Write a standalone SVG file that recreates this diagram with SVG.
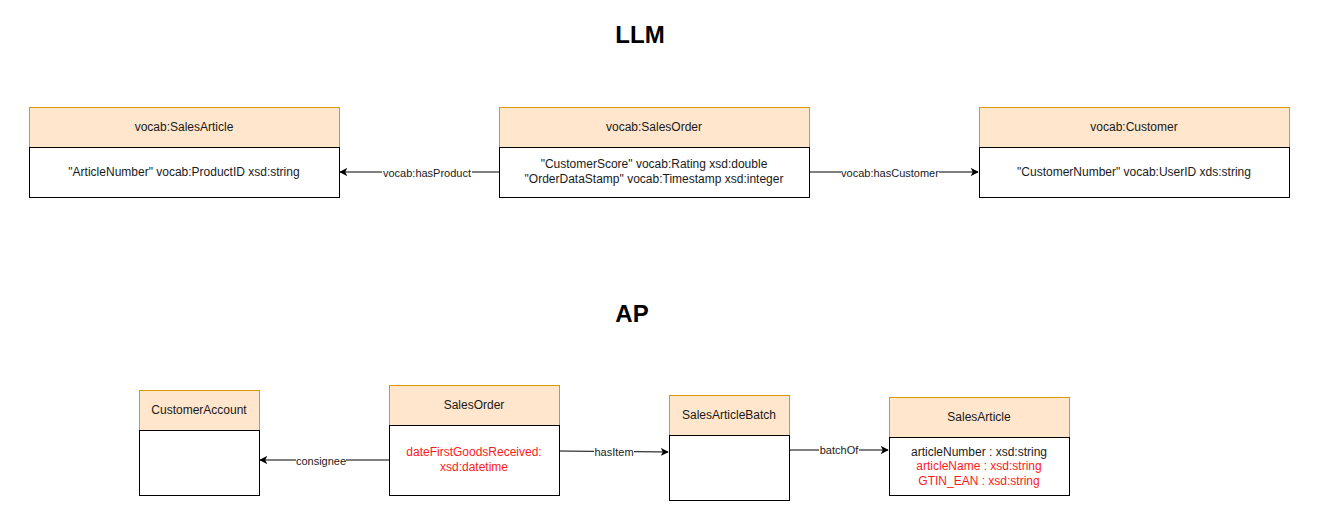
<svg xmlns="http://www.w3.org/2000/svg" width="1331" height="531" viewBox="0 0 1331 531">
<style>
.hd{fill:#ffe6cc;stroke:#d79b00;stroke-width:1}
.bd{fill:#ffffff;stroke:#000000;stroke-width:1}
.t{font-family:"Liberation Sans",Arial,sans-serif;font-size:12px;fill:#1a1a1a;text-anchor:middle;dominant-baseline:central}
.r{fill:#ff1a1a}
.ttl{font-family:"Liberation Sans",Arial,sans-serif;font-size:24px;font-weight:bold;fill:#000;text-anchor:middle;dominant-baseline:central}
.e{stroke:#000;stroke-width:1;fill:none;marker-end:url(#arr)}
.lbg{fill:#fff}
.lt{font-family:"Liberation Sans",Arial,sans-serif;font-size:11px;fill:#1a1a1a;text-anchor:middle;dominant-baseline:central}
</style>
<defs>
<marker id="arr" viewBox="0 0 10 10" refX="9" refY="5" markerWidth="8" markerHeight="8" markerUnits="userSpaceOnUse" orient="auto">
<path d="M0,0 L10,5 L0,10 L2.5,5 Z" fill="#000"/>
</marker>
</defs>
<rect width="1331" height="531" fill="#fff"/>
<text class="ttl" x="640" y="34">LLM</text>
<text class="ttl" x="632" y="313">AP</text>

<g id="connectors">
<line class="e" x1="499" y1="172" x2="340" y2="172"/>
<rect class="lbg" x="382" y="166" width="90" height="13"/>
<text class="lt" x="427" y="173">vocab:hasProduct</text>
<line class="e" x1="809" y1="172" x2="978" y2="172"/>
<rect class="lbg" x="841" y="166" width="98" height="13"/>
<text class="lt" x="890" y="173">vocab:hasCustomer</text>
<line class="e" x1="389" y1="460" x2="260" y2="460"/>
<rect class="lbg" x="296" y="454" width="50" height="13"/>
<text class="lt" x="321" y="461">consignee</text>
<line class="e" x1="559" y1="451" x2="668" y2="452"/>
<rect class="lbg" x="594" y="445" width="40" height="13"/>
<text class="lt" x="614" y="452">hasItem</text>
<line class="e" x1="789" y1="450" x2="888" y2="450"/>
<rect class="lbg" x="819" y="444" width="40" height="13"/>
<text class="lt" x="839" y="450">batchOf</text>
</g>

<g id="llm-salesarticle">
<rect class="hd" x="29.5" y="107.5" width="310" height="40"/>
<rect class="bd" x="29.5" y="147.5" width="310" height="50"/>
<text class="t" x="184" y="127">vocab:SalesArticle</text>
<text class="t" x="184" y="172">"ArticleNumber" vocab:ProductID xsd:string</text>
</g>
<g id="llm-salesorder">
<rect class="hd" x="499.5" y="107.5" width="310" height="40"/>
<rect class="bd" x="499.5" y="147.5" width="310" height="50"/>
<text class="t" x="654" y="127">vocab:SalesOrder</text>
<text class="t" x="654" y="164">"CustomerScore" vocab:Rating xsd:double</text>
<text class="t" x="654" y="179">"OrderDataStamp" vocab:Timestamp xsd:integer</text>
</g>
<g id="llm-customer">
<rect class="hd" x="979.5" y="107.5" width="310" height="40"/>
<rect class="bd" x="979.5" y="147.5" width="310" height="50"/>
<text class="t" x="1134" y="127">vocab:Customer</text>
<text class="t" x="1134" y="172">"CustomerNumber" vocab:UserID xds:string</text>
</g>

<g id="ap-customeraccount">
<rect class="hd" x="139.5" y="390.5" width="120" height="40"/>
<rect class="bd" x="139.5" y="430.5" width="120" height="65"/>
<text class="t" x="199" y="410">CustomerAccount</text>
</g>
<g id="ap-salesorder">
<rect class="hd" x="389.5" y="385.5" width="170" height="40"/>
<rect class="bd" x="389.5" y="425.5" width="170" height="70"/>
<text class="t" x="474" y="405">SalesOrder</text>
<text class="t r" x="474" y="452">dateFirstGoodsReceived:</text>
<text class="t r" x="474" y="467">xsd:datetime</text>
</g>
<g id="ap-salesarticlebatch">
<rect class="hd" x="669.5" y="395.5" width="120" height="40"/>
<rect class="bd" x="669.5" y="435.5" width="120" height="65"/>
<text class="t" x="729" y="415">SalesArticleBatch</text>
</g>
<g id="ap-salesarticle">
<rect class="hd" x="889.5" y="397.5" width="180" height="40"/>
<rect class="bd" x="889.5" y="437.5" width="180" height="58"/>
<text class="t" x="979" y="417">SalesArticle</text>
<text class="t" x="979" y="452">articleNumber : xsd:string</text>
<text class="t r" x="979" y="466">articleName : xsd:string</text>
<text class="t r" x="979" y="481">GTIN_EAN : xsd:string</text>
</g>
</svg>
